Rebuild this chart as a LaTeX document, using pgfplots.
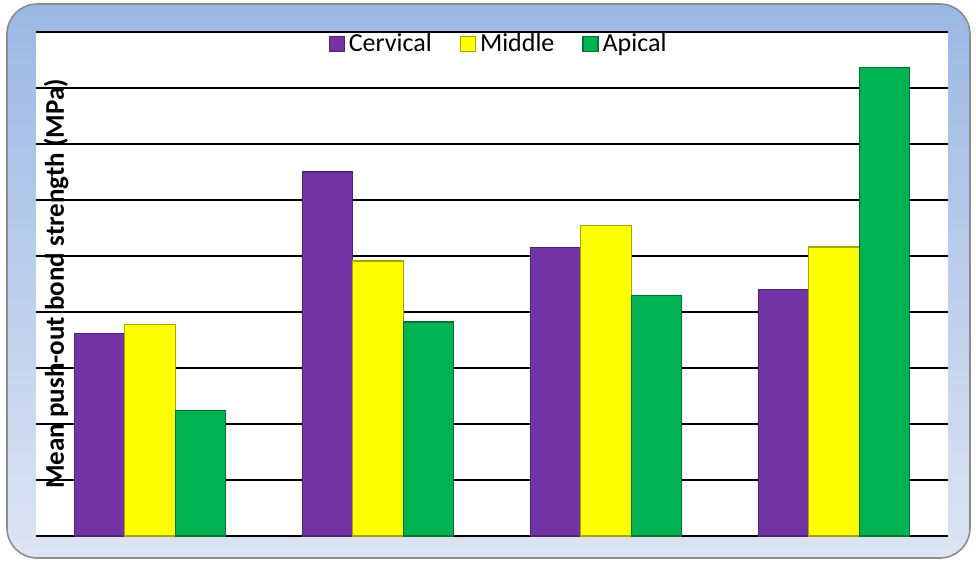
\documentclass[border=0pt]{standalone}
\usepackage{pgfplots}
\pgfplotsset{compat=1.18}
\usepackage{fontspec}
\setmainfont{Carlito}
\definecolor{cerv}{RGB}{114,52,164}
\definecolor{midd}{RGB}{255,255,0}
\definecolor{apic}{RGB}{0,178,82}
\definecolor{bgtop}{RGB}{155,184,228}
\definecolor{bgbot}{RGB}{221,228,243}
\begin{document}
\begin{tikzpicture}[x=1pt,y=1pt]
  % fixed frame of the figure
  \path (0,0) rectangle (488,282);
  \shade[top color=bgtop, bottom color=bgbot, draw=gray!90, line width=0.8pt,
         rounded corners=15pt] (3.5,3) rectangle (485,280);
  \begin{axis}[
      at={(18pt,14pt)}, anchor=south west,
      scale only axis, width=456pt, height=252pt,
      axis background/.style={fill=white},
      axis line style={draw=none},
      xmin=-0.5, xmax=3.5, ymin=0, ymax=9,
      ytick={0,...,9}, yticklabels={},
      xtick=\empty,
      major tick length=0pt,
      ymajorgrids,
      grid style={black, line width=0.9pt},
      ybar=0pt, bar width=25.15pt,
      ylabel={\fontsize{13.5}{16}\selectfont\bfseries Mean push-out bond strength (MPa)},
      ylabel style={at={(axis description cs:0.022,0.5)}, anchor=center},
      legend columns=3,
      legend style={at={(0.5,1)}, anchor=north, xshift=3.8pt, yshift=3.5pt,
                    draw=none, fill=none,
                    font=\fontsize{13}{15}\selectfont,
                    /tikz/every even column/.append style={column sep=12pt}},
      legend image code/.code={\draw[#1] (0pt,-3.75pt) rectangle (7.5pt,3.75pt);},
    ]
    \addplot[fill=cerv, draw=cerv!70!black, line width=0.6pt]
      coordinates {(0,3.62) (1,6.50) (2,5.15) (3,4.40)};
    \addplot[fill=midd, draw=midd!65!black, line width=0.6pt]
      coordinates {(0,3.77) (1,4.91) (2,5.55) (3,5.16)};
    \addplot[fill=apic, draw=apic!65!black, line width=0.6pt]
      coordinates {(0,2.24) (1,3.82) (2,4.30) (3,8.36)};
    \legend{Cervical, Middle, Apical}
  \end{axis}
\end{tikzpicture}
\end{document}
